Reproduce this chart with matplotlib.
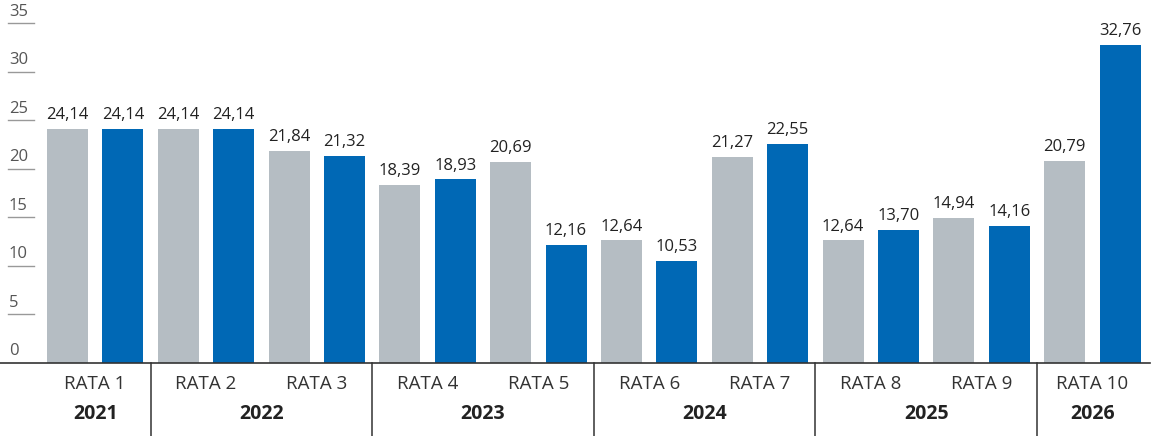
import numpy as np
import matplotlib
matplotlib.use('Agg')
import matplotlib.pyplot as plt

plt.rcParams['font.family'] = ['Open Sans', 'DejaVu Sans']

# dati: valori per rata (grigio = prima barra, blu = seconda barra)
rate = ["RATA 1", "RATA 2", "RATA 3", "RATA 4", "RATA 5",
        "RATA 6", "RATA 7", "RATA 8", "RATA 9", "RATA 10"]
grigio = [24.14, 24.14, 21.84, 18.39, 20.69, 12.64, 21.27, 12.64, 14.94, 20.79]
blu = [24.14, 24.14, 21.32, 18.93, 12.16, 10.53, 22.55, 13.70, 14.16, 32.76]
anni = ["2021", "2022", "2023", "2024", "2025", "2026"]
rate_per_anno = [1, 2, 2, 2, 2, 1]
yticks = [0, 5, 10, 15, 20, 25, 30, 35]

col_grigio = '#b5bdc3'
col_blu = '#0068b5'

fig = plt.figure(figsize=(11.59, 4.36), dpi=100)
ax = fig.add_axes([0, 73 / 436, 1150 / 1159, 359 / 436])

n = len(rate)
x_g = np.arange(n) * 2
x_b = x_g + 1
w = 0.74

ax.bar(x_g, grigio, width=w, color=col_grigio)
ax.bar(x_b, blu, width=w, color=col_blu)

def fmt(v):
    return f"{v:.2f}".replace('.', ',')

for xs, vals in [(x_g, grigio), (x_b, blu)]:
    for x, v in zip(xs, vals):
        ax.text(x, v + 0.6, fmt(v), ha='center', va='bottom',
                fontsize=12, color='#222222')

ax.set_xlim(-1.218, 19.54)
ax.set_ylim(0, 37)
ax.axis('off')

# asse orizzontale
ax.plot([0, 1], [0, 0], transform=ax.get_yaxis_transform(), color='#333333',
        lw=1.2, clip_on=False)

# etichette asse y con trattino
tr = ax.get_yaxis_transform()
x0 = 8 / 1150
x1 = 34 / 1150
for t in yticks:
    ax.text(x0 + 1 / 1150, t + 0.4, str(t), transform=tr, ha='left', va='bottom',
            fontsize=12, color='#555555')
    if t > 0:
        ax.plot([x0, x1], [t, t], transform=tr, color='#999999', lw=1,
                clip_on=False)

# etichette rate e anni
for i, r in enumerate(rate):
    ax.text(2 * i + 0.5, -2.2, r, ha='center', va='center', fontsize=13.5,
            color='#333333')

start = 0
for a, k in zip(anni, rate_per_anno):
    centro = (2 * start + 2 * (start + k) - 1) / 2
    ax.text(centro, -5.3, a, ha='center', va='center', fontsize=14,
            fontweight='bold', color='#222222')
    start += k
    if start < n:
        sep = 2 * start - 0.5
        ax.plot([sep, sep], [0, -7.6], color='#333333', lw=1.1, clip_on=False)

fig.savefig("out.png", dpi=100)
